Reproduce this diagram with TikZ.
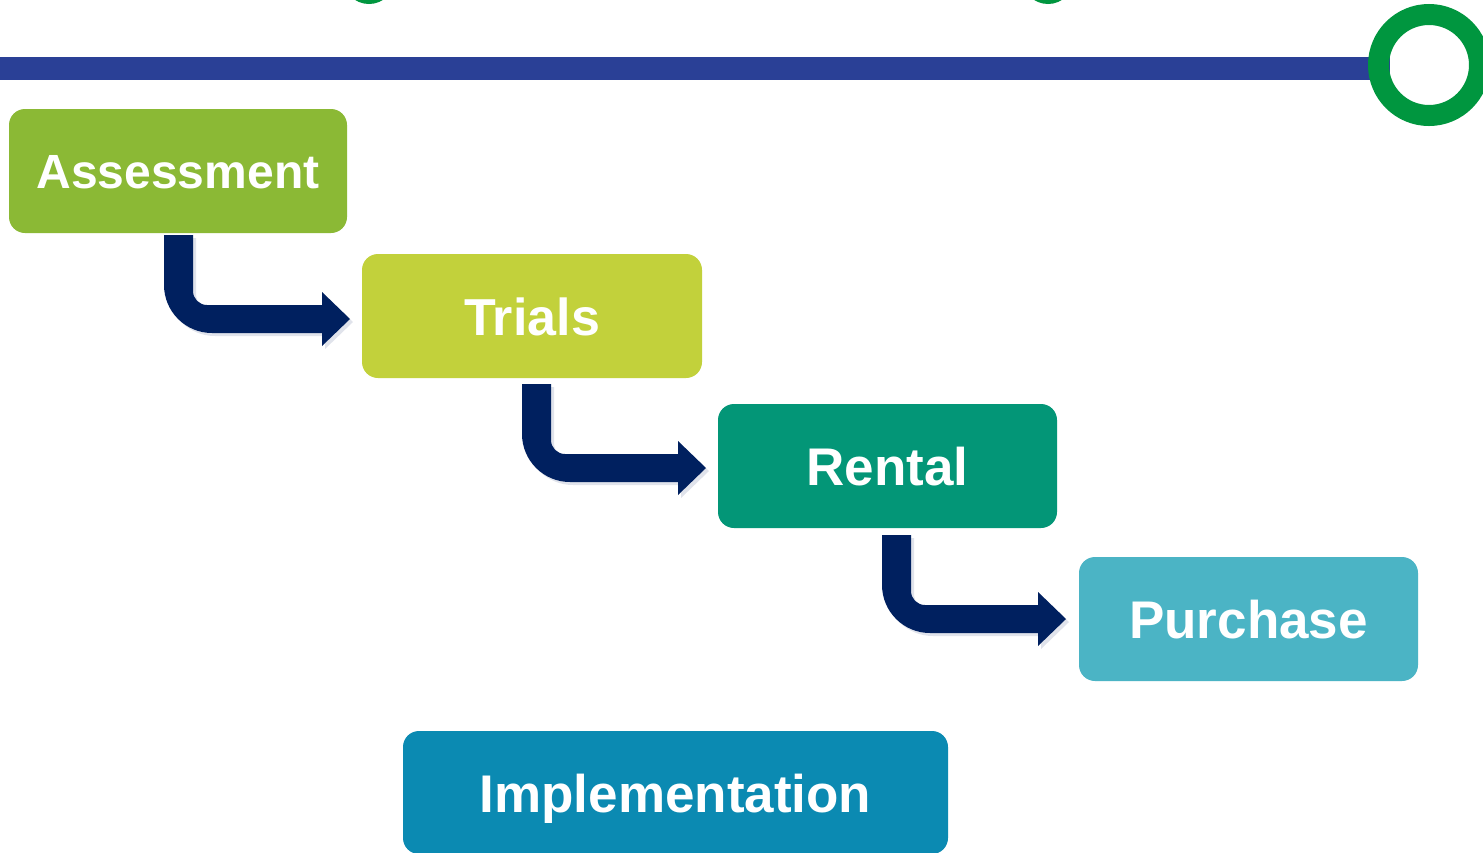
\documentclass[tikz,border=0pt]{standalone}
\usepackage{fontspec}
\setmainfont{Liberation Sans}
\definecolor{cAsmt}{HTML}{8BB935}
\definecolor{cTrial}{HTML}{C2D13B}
\definecolor{cRent}{HTML}{039677}
\definecolor{cPurch}{HTML}{4BB4C5}
\definecolor{cImpl}{HTML}{0B8AB2}
\definecolor{cNavy}{HTML}{00205F}
\definecolor{cLine}{HTML}{2A4096}
\definecolor{cRing}{HTML}{00963F}
\newcommand\bentarrowshape[4]{% #1 stem left x, #2 top y, #3 bar top y, #4 head base x
  \fill[cNavy]
    (#1,#2) -- (#1+29,#2) -- (#1+29,#3-14)
    arc[start angle=180,end angle=270,x radius=14,y radius=-14]
    -- (#4,#3) -- (#4,#3-13) -- (#4+28,#3+14) -- (#4,#3+41) -- (#4,#3+28)
    -- (#1+48,#3+28)
    arc[start angle=270,end angle=180,x radius=48,y radius=-48]
    -- cycle;}
\begin{document}
\begin{tikzpicture}[x=1pt,y=-1pt,
  stagebox/.style={rectangle,rounded corners=16pt,text=white,font=\bfseries\fontsize{53}{60}\selectfont,
    minimum width=340pt,minimum height=124pt,inner sep=0pt,text height=38pt,text depth=0pt},
  shadowfx/.style={black,opacity=0.12}]
\useasboundingbox (0,0) rectangle (1483,852);
\fill[white] (0,0) rectangle (1483,852);
% top partial circles
\fill[cRing] (369,-22) circle[radius=26];
\fill[cRing] (1048,-22) circle[radius=26];
% timeline
\fill[cLine] (0,57) rectangle (1390,80);
\draw[cRing,line width=21pt] (1429,65) circle[radius=50.5];
% boxes
\node[stagebox,fill=cAsmt,minimum width=338pt,font=\bfseries\fontsize{48}{56}\selectfont,text height=35pt] (asmt) at (178,171) {Assessment};
\node[stagebox,fill=cTrial,font=\bfseries\fontsize{52}{60}\selectfont] (trial) at (532,316) {Trials};
\node[stagebox,fill=cRent,minimum width=339pt] (rent) at (887.5,466) {Rental};
\node[stagebox,fill=cPurch,minimum width=339pt] (purch) at (1248.5,619) {Purchase};
\node[stagebox,fill=cImpl,minimum width=545pt,minimum height=123pt,text height=39pt] (impl) at (675.5,792.5) {Implementation};
% arrows with soft shadow
\begin{scope}[shift={(3,3)},shadowfx]
  \bentarrowshape{164}{235}{305}{322}
  \bentarrowshape{522}{384}{454}{678}
  \bentarrowshape{882}{535}{605}{1038}
\end{scope}
\bentarrowshape{164}{235}{305}{322}
\bentarrowshape{522}{384}{454}{678}
\bentarrowshape{882}{535}{605}{1038}
\end{tikzpicture}
\end{document}
